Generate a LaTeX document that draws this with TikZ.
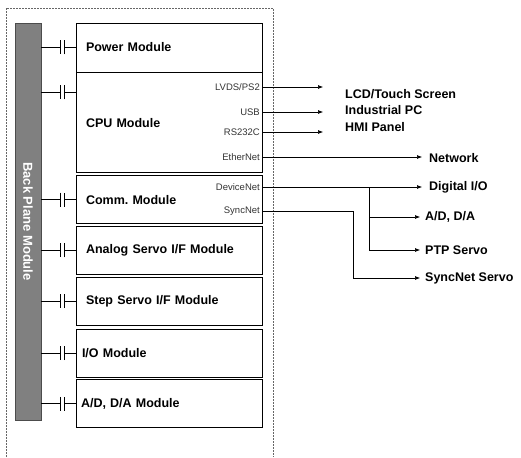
\documentclass[tikz,border=0pt]{standalone}
\usepackage{fontspec}
\setmainfont{Liberation Sans}
\usetikzlibrary{arrows.meta, positioning, calc}
\frenchspacing

\begin{document}
\begin{tikzpicture}[x=1pt, y=-1pt,
        node distance=2pt,
        module/.style={rectangle, draw, line width=0.8pt, minimum height=48pt, text width=166pt, inner xsep=10pt, align=left, font=\fontsize{12.5}{14}\selectfont\bfseries},
        port/.style={inner sep=1pt, anchor=east, text=black!80, font=\fontsize{9.5}{11}\selectfont},
        target/.style={inner ysep=0pt, inner xsep=6pt, anchor=west, font=\fontsize{12.5}{14}\selectfont\bfseries},
        backplane/.style={rectangle, draw=black!70, fill=black!50, minimum width=26pt, minimum height=397pt, inner sep=0pt},
        link/.style={line width=0.6pt, -{Latex[length=5pt, width=4pt]}},
        bus/.style={line width=0.8pt},
        frame/.style={line width=0.5pt, black!60, dash pattern=on 2pt off 1pt}
    ]
        \useasboundingbox (0,0) rectangle (521,457);
        \draw [frame] (6,457) |- (273,8) -- (273,457);

        % back plane
        \node [backplane] (bar) at (28,221.5) {};
        \node [rotate=-90, text=white, font=\fontsize{13}{15}\selectfont\bfseries] (bartext) at (bar.center) {Back Plane Module};

        % modules
        \node [module, minimum height=49pt] (power) at (169,47.5) {Power Module};
        \node [module, minimum height=100pt, below=0pt of power] (cpu) {CPU Module};
        \node [module, below=of cpu] (comm) {Comm. Module};
        \node [module, below=of comm] (analog) {Analog Servo I/F Module};
        \node [module, below=of analog] (step) {Step Servo I/F Module};
        \node [module, below=3pt of step, inner xsep=6pt, text width=174pt] (io) {I/O Module};
        \node [module, below=of io, inner xsep=5pt, text width=176pt] (adda) {A/D, D/A Module};
        \coordinate (cpuport) at ([yshift=-20pt]cpu.north west);

        \foreach \p in {power.west, cpuport, comm.west, analog.west, step.west, io.west, adda.west}
            \draw [bus] (bar.east |- \p) -- ++(19,0) ++(0,-7) -- ++(0,14) ++(4,0) -- ++(0,-14) ++(0,7) -- (\p);

        % ports
        \node [port] (lvds) at (261,87) {LVDS/PS2};
        \node [port] (usb) at (261,112) {USB};
        \node [port] (rs) at (261,132) {RS232C};
        \node [port] (ether) at (261,157) {EtherNet};
        \node [port] (devnet) at (261,187) {DeviceNet};
        \node [port] (syncnet) at (261,211) {SyncNet};

        % targets
        \node [target] (lcd) at (339,94) {LCD/Touch Screen};
        \node [target] (ipc) at (339,110) {Industrial PC};
        \node [target] (hmi) at (339,127) {HMI Panel};
        \node [target, inner xsep=7pt] (network) at (422,158) {Network};
        \node [target, inner xsep=7pt] (dio) at (422,187) {Digital I/O};
        \node [target, inner xsep=5pt] (adio) at (420,217) {A/D, D/A};
        \node [target, inner xsep=5pt] (ptp) at (420,250) {PTP Servo};
        \node [target, inner xsep=5pt] (syncservo) at (420,278) {SyncNet Servo};

        \coordinate (lcdend) at (323,87);
        \coordinate (ipcend) at (323,112);
        \coordinate (hmiend) at (323,132);
        \coordinate (tap) at (369,187);
        \coordinate (bend) at (353,211);

        \draw [link] (lvds.east -| cpu.east) -- (lcdend);
        \draw [link] (usb.east -| cpu.east) -- (ipcend);
        \draw [link] (rs.east -| cpu.east) -- (hmiend);
        \draw [link] (ether.east -| cpu.east) -- (ether.east -| network.west);
        \draw [link] (devnet.east -| comm.east) -- (devnet.east -| dio.west);
        \draw [link] (tap) |- (adio.west);
        \draw [link] (tap) |- (ptp.west);
        \draw [link] (syncnet.east -| comm.east) -- (bend) |- (syncservo.west);
    \end{tikzpicture}
\end{document}
